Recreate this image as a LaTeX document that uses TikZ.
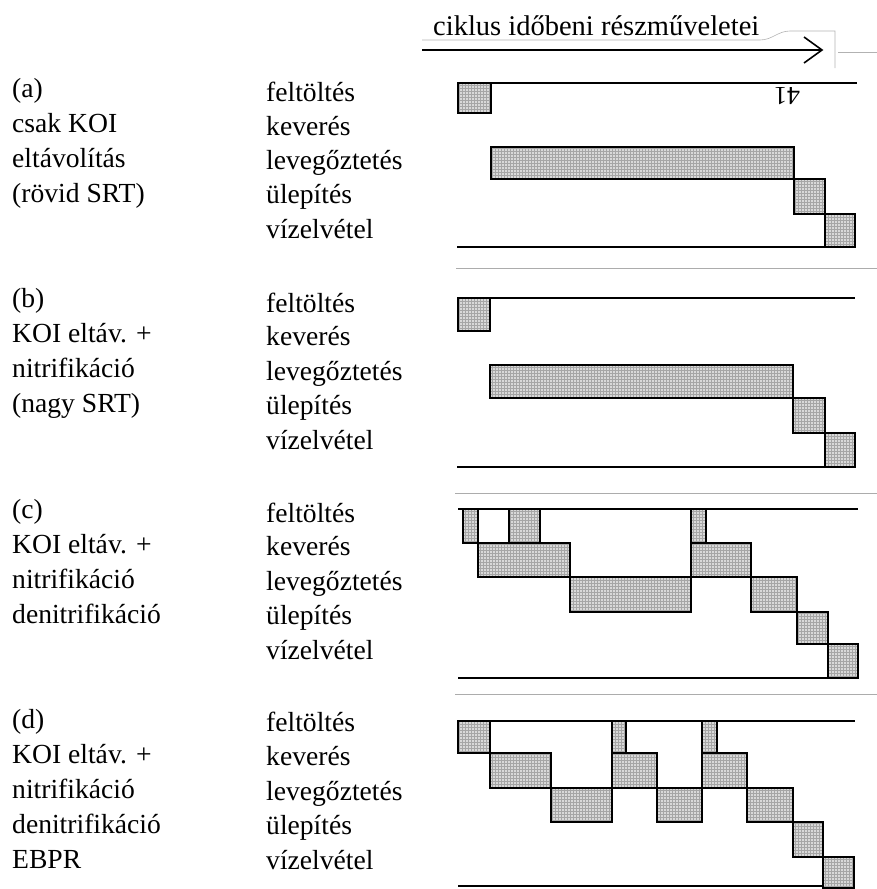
\documentclass[tikz,border=0pt]{standalone}
\usepackage{fontspec}
\setmainfont{Liberation Serif}
\usetikzlibrary{patterns}

\tikzset{
  opbox/.style={preaction={fill=gray!30}, pattern=grid, pattern color=gray!70,
                draw=black, line width=1.8pt},
  timeline/.style={draw=black, line width=1.8pt},
  sepline/.style={draw=gray!65, line width=0.8pt},
  edgeline/.style={draw=gray!60, line width=0.6pt},
  lbl/.style={anchor=base west, inner sep=0pt, font=\fontsize{27.6}{33}\selectfont},
}

% one operation bar: left, top, right, bottom
\newcommand\opbar[4]{\path[opbox] (#1,#2) rectangle (#3,#4);}

\begin{document}
\begin{tikzpicture}[x=1pt,y=-1pt]
\useasboundingbox (0,0) rectangle (877,889);

% --- heading and time arrow ---
\node[lbl, font=\fontsize{28.5}{33}\selectfont] (title) at (433,35) {ciklus időbeni részműveletei};
\path[edgeline] (422,40) -- (760,40) to[out=0,in=180] (790,31) -- (835,31) -- (835,68);
\path[edgeline] (838,52) -- (877,52);
\coordinate (tstart) at (422,50);
\coordinate (tend) at (822,50);
\draw[line width=1.8pt] (tstart) -- (tend);
\draw[line width=1.6pt, line join=miter] (tend) ++(-18,-13) -- (tend) -- ++(-18,13);

% --- separators between the four schemes ---
\path[sepline] (456,268) -- (877,268);
\path[sepline] (455,493) -- (877,493);
\path[sepline] (455,694) -- (877,694);

% ===== (a) =====
\node[lbl] (a0) at (12,97) {(a)};
\node[lbl] (a1) at (12,132) {csak KOI};
\node[lbl] (a2) at (12,167) {eltávolítás};
\node[lbl] (a3) at (12,202) {(rövid SRT)};
\node[lbl] (af) at (266,101) {feltöltés};
\node[lbl] (ak) at (266,135) {keverés};
\node[lbl] (al) at (266,169) {levegőztetés};
\node[lbl] (au) at (266,203) {ülepítés};
\node[lbl] (av) at (266,238) {vízelvétel};
\node[rotate=180, inner sep=0pt, font=\fontsize{26}{30}\selectfont] (pg) at (787,96) {41};
\path[timeline] (458,83) -- (857,83);
\path[timeline] (457,247) -- (855,247);
\opbar{458}{83}{491}{113}
\opbar{491}{147}{794}{179}
\opbar{794}{179}{825}{214}
\opbar{825}{214}{855}{247}

% ===== (b) =====
\node[lbl] (b0) at (12,307) {(b)};
\node[lbl] (b1) at (12,342) {KOI eltáv. +};
\node[lbl] (b2) at (12,377) {nitrifikáció};
\node[lbl] (b3) at (12,412) {(nagy SRT)};
\node[lbl] (bf) at (266,312) {feltöltés};
\node[lbl] (bk) at (266,345) {keverés};
\node[lbl] (bl) at (266,380) {levegőztetés};
\node[lbl] (bu) at (266,414) {ülepítés};
\node[lbl] (bv) at (266,449) {vízelvétel};
\path[timeline] (457,298) -- (855,298);
\path[timeline] (457,467) -- (855,467);
\opbar{458}{298}{490}{331}
\opbar{490}{365}{793}{398}
\opbar{793}{398}{825}{433}
\opbar{825}{433}{855}{467}

% ===== (c) =====
\node[lbl] (c0) at (12,518) {(c)};
\node[lbl] (c1) at (12,553) {KOI eltáv. +};
\node[lbl] (c2) at (12,588) {nitrifikáció};
\node[lbl] (c3) at (12,623) {denitrifikáció};
\node[lbl] (cf) at (266,522) {feltöltés};
\node[lbl] (ck) at (266,555) {keverés};
\node[lbl] (cl) at (266,590) {levegőztetés};
\node[lbl] (cu) at (266,624) {ülepítés};
\node[lbl] (cv) at (266,659) {vízelvétel};
\path[timeline] (458,509) -- (858,509);
\path[timeline] (458,678) -- (858,678);
\opbar{463}{509}{478}{543}
\opbar{509}{509}{540}{543}
\opbar{478}{543}{570}{577}
\opbar{570}{577}{691}{612}
\opbar{691}{509}{706}{543}
\opbar{691}{543}{751}{577}
\opbar{751}{577}{797}{612}
\opbar{797}{612}{828}{644}
\opbar{828}{644}{858}{678}

% ===== (d) =====
\node[lbl] (d0) at (12,728) {(d)};
\node[lbl] (d1) at (12,763) {KOI eltáv. +};
\node[lbl] (d2) at (12,798) {nitrifikáció};
\node[lbl] (d3) at (12,833) {denitrifikáció};
\node[lbl] (d4) at (12,868) {EBPR};
\node[lbl] (df) at (266,731) {feltöltés};
\node[lbl] (dk) at (266,765) {keverés};
\node[lbl] (dl) at (266,800) {levegőztetés};
\node[lbl] (du) at (266,834) {ülepítés};
\node[lbl] (dv) at (266,869) {vízelvétel};
\path[timeline] (458,721) -- (855,721);
\path[timeline] (458,886) -- (854,886);
\opbar{458}{721}{490}{753}
\opbar{490}{753}{551}{788}
\opbar{551}{788}{612}{822}
\opbar{612}{721}{626}{753}
\opbar{612}{753}{657}{788}
\opbar{657}{788}{702}{822}
\opbar{702}{721}{717}{753}
\opbar{702}{753}{747}{788}
\opbar{747}{788}{793}{822}
\opbar{793}{822}{823}{857}
\opbar{823}{857}{854}{888}
\end{tikzpicture}
\end{document}
